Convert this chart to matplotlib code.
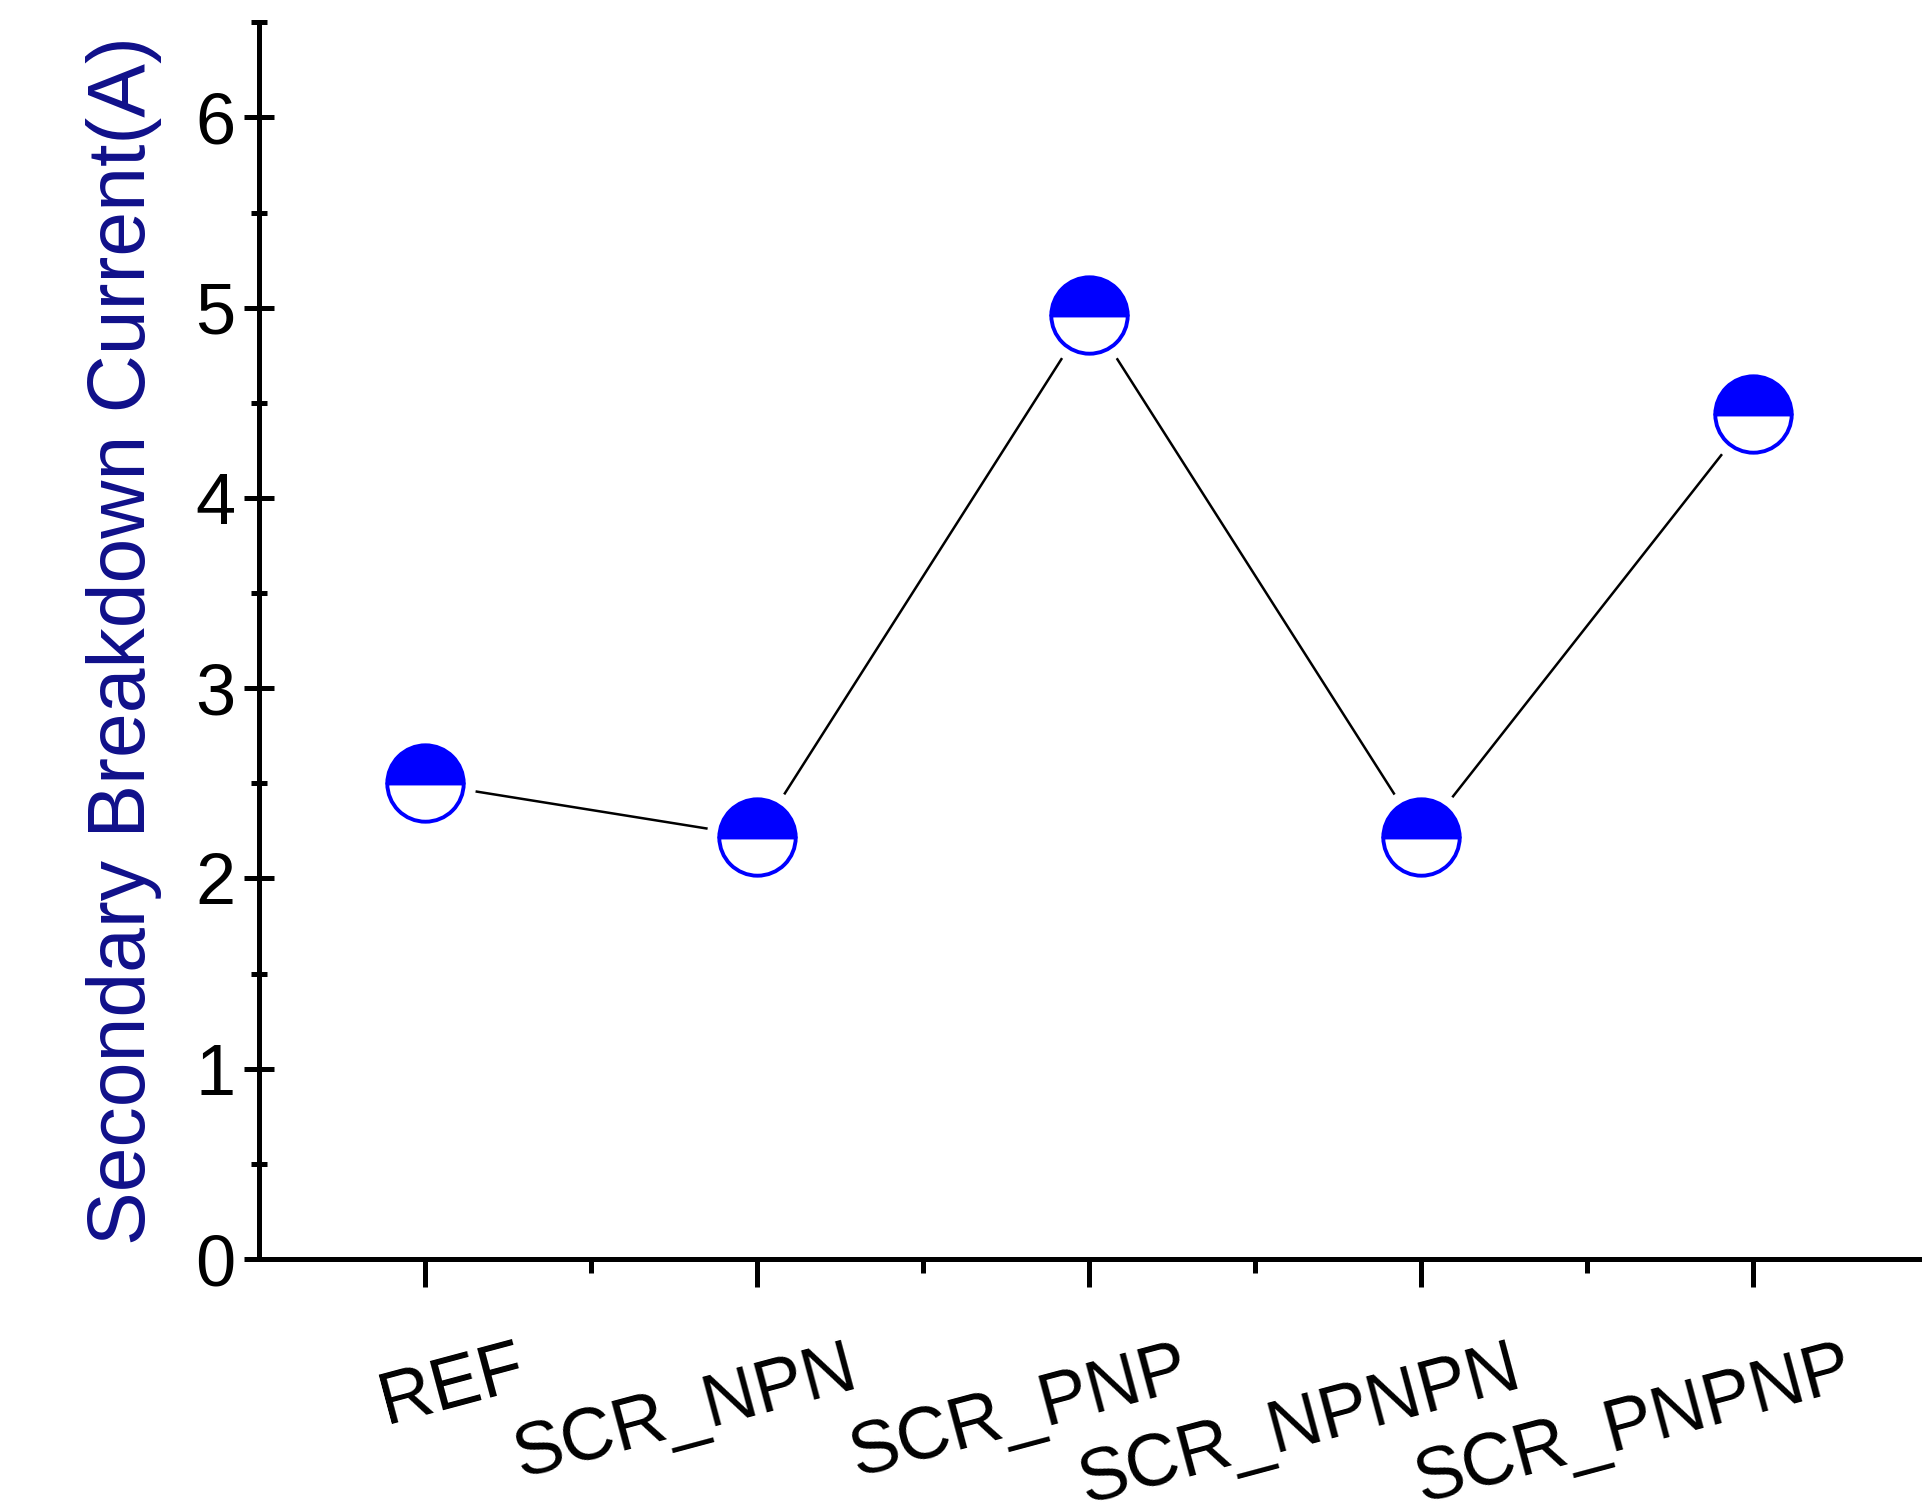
import matplotlib
matplotlib.use("Agg")
import matplotlib.pyplot as plt
import matplotlib.transforms as mtransforms

plt.rcParams['font.family'] = ['Liberation Sans', 'DejaVu Sans']

categories = ["REF", "SCR_NPN", "SCR_PNP", "SCR_NPNPN", "SCR_PNPNP"]
positions = [1, 2, 3, 4, 5]
current = [2.50, 2.22, 4.96, 2.22, 4.44]

fig = plt.figure(figsize=(19.26, 15.12), dpi=100)
ax = fig.add_axes([0.1346, 0.1673, 0.862, 0.818])

ax.plot(positions, current, color='black', lw=1.8, zorder=2)
# white halo gives the gap between line and marker
ax.plot(positions, current, 'o', ms=72, mfc='white', mec='white', zorder=3)
ax.plot(positions, current, 'o', ms=55, color='blue', fillstyle='top',
        markerfacecoloralt='white', mec='blue', mew=2.8, ls='none', zorder=4)

ax.set_xlim(0.5, 5.5)
ax.set_ylim(0, 6.5)
ax.set_yticks(range(0, 7))
ax.set_yticks([i + 0.5 for i in range(0, 7)], minor=True)
ax.set_xticks(positions)
ax.set_xticks([1.5, 2.5, 3.5, 4.5], minor=True)
ax.set_xticklabels([])

for s in ['top', 'right']:
    ax.spines[s].set_visible(False)
for s in ['left', 'bottom']:
    ax.spines[s].set_linewidth(3.6)

ax.tick_params(axis='y', which='major', direction='inout', length=22, width=3.6,
               labelsize=52, pad=6)
ax.tick_params(axis='y', which='minor', direction='inout', length=12, width=3.6)
ax.tick_params(axis='x', which='major', direction='out', length=20, width=3.6)
ax.tick_params(axis='x', which='minor', direction='out', length=10, width=3.6)

for x, lab in zip(positions, categories):
    tr = ax.get_xaxis_transform() + mtransforms.ScaledTranslation(64 / 72, -54 / 72, fig.dpi_scale_trans)
    ax.text(x, 0, lab, transform=tr, rotation=15, rotation_mode='anchor',
            ha='right', va='top', fontsize=53)

ax.set_ylabel("Secondary Breakdown Current(A)", fontsize=58, color='#10108a', labelpad=24)

fig.savefig("out.png", dpi=100)
